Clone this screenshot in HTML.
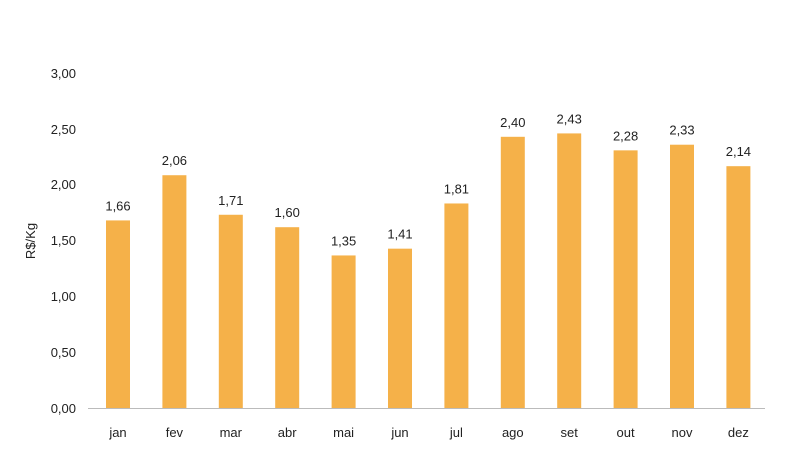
<!DOCTYPE html>
<html><head><meta charset="utf-8"><style>
html,body{margin:0;padding:0;background:#fff;}
svg{display:block;font-family:"Liberation Sans",sans-serif;}
</style></head><body>
<svg width="801" height="452" viewBox="0 0 801 452">
<g font-size="13" fill="#222" text-anchor="end">
<text x="76" y="413">0,00</text>
<text x="76" y="357">0,50</text>
<text x="76" y="301">1,00</text>
<text x="76" y="245">1,50</text>
<text x="76" y="189">2,00</text>
<text x="76" y="134">2,50</text>
<text x="76" y="78">3,00</text>
</g>
<text transform="translate(35,241) rotate(-90)" font-size="13" fill="#222" text-anchor="middle">R$/Kg</text>
<line x1="88" y1="408.5" x2="765" y2="408.5" stroke="#bbb" stroke-width="1"/>
<g id="bars" fill="#F5B149"></g>
<g id="lbl" font-size="13" fill="#222" text-anchor="middle"></g>
<g id="cat" font-size="13" fill="#222" text-anchor="middle"></g>
<script>
var v=[1.66,2.06,1.71,1.60,1.35,1.41,1.81,2.40,2.43,2.28,2.33,2.14];
var m=["jan","fev","mar","abr","mai","jun","jul","ago","set","out","nov","dez"];
var ns="http://www.w3.org/2000/svg";
for(var i=0;i<12;i++){
 var cx=118+i*56.4, h=v[i]*113, y=408-h;
 var r=document.createElementNS(ns,"rect");
 r.setAttribute("x",cx-12);r.setAttribute("y",y);r.setAttribute("width",24);r.setAttribute("height",h);
 document.getElementById("bars").appendChild(r);
 var t=document.createElementNS(ns,"text");
 t.setAttribute("x",cx);t.setAttribute("y",y-10);t.textContent=v[i].toFixed(2).replace(".",",");
 document.getElementById("lbl").appendChild(t);
 var c=document.createElementNS(ns,"text");
 c.setAttribute("x",cx);c.setAttribute("y",437);c.textContent=m[i];
 document.getElementById("cat").appendChild(c);
}
</script>
</svg>
</body></html>
